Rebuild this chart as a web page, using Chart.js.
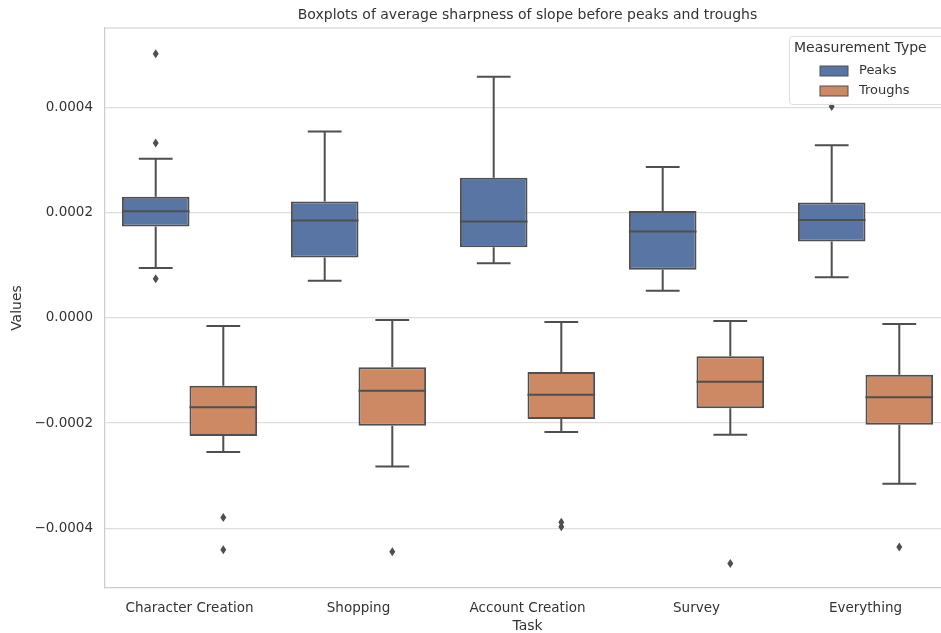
<!DOCTYPE html>
<html>
<head>
<meta charset="utf-8">
<script src="https://cdn.jsdelivr.net/npm/chart.js@4.4.1/dist/chart.umd.min.js"></script>
<style>
  html, body { margin: 0; padding: 0; background: #fff; overflow: hidden; }
  #wrap { width: 960px; height: 633px; }
</style>
</head>
<body>
<div id="wrap"><canvas id="boxChart" width="960" height="633"></canvas></div>
<script>
const tasks = ['Character Creation', 'Shopping', 'Account Creation', 'Survey', 'Everything'];
const yTicks = [-0.0004, -0.0002, 0, 0.0002, 0.0004];

// Peaks
const peaksLow    = [0.0000952, 0.0000711, 0.0001041, 0.0000520, 0.0000775];
const peaksQ1     = [0.0001740, 0.0001150, 0.0001346, 0.0000920, 0.0001454];
const peaksMedian = [0.0002030, 0.0001854, 0.0001835, 0.0001644, 0.0001867];
const peaksQ3     = [0.0002310, 0.0002216, 0.0002670, 0.0002038, 0.0002197];
const peaksHigh   = [0.0003030, 0.0003550, 0.0004590, 0.0002876, 0.0003290];
const peaksOut    = [[0.000503, 0.000333, 0.0000749], [], [], [], [0.0004025]];

// Troughs
const troughsLow    = [-0.0002552, -0.0002826, -0.0002171, -0.0002222, -0.0003156];
const troughsQ1     = [-0.0002248, -0.0002050, -0.0001924, -0.0001720, -0.0002032];
const troughsMedian = [-0.0001700, -0.0001384, -0.0001460, -0.0001213, -0.0001510];
const troughsQ3     = [-0.0001290, -0.0000940, -0.0001029, -0.0000730, -0.0001080];
const troughsHigh   = [-0.0000152, -0.0000038, -0.0000076, -0.0000057, -0.0000114];
const troughsOut    = [[-0.0003797, -0.000441], [-0.000445], [-0.000389, -0.0003975], [-0.0004673], [-0.000436]];

const lineColor = '#4f4f4f';
const textColor = '#333333';
const fontFamily = '"DejaVu Sans", sans-serif';

const stats = [
    { low: peaksLow, med: peaksMedian, high: peaksHigh, out: peaksOut },
    { low: troughsLow, med: troughsMedian, high: troughsHigh, out: troughsOut }
];

// whiskers, medians and outliers drawn on top of the floating bars
const boxExtras = {
    id: 'boxExtras',
    afterDatasetsDraw(chart) {
        const ctx = chart.ctx;
        const y = chart.scales.y;
        ctx.save();
        ctx.strokeStyle = lineColor;
        ctx.fillStyle = lineColor;
        ctx.lineWidth = 2;
        chart.data.datasets.forEach((ds, di) => {
            const meta = chart.getDatasetMeta(di);
            const s = stats[di];
            meta.data.forEach((bar, i) => {
                const x = bar.x;
                const w = bar.width;
                const top = Math.min(bar.y, bar.base);
                const bottom = Math.max(bar.y, bar.base);
                const yLow = y.getPixelForValue(s.low[i]);
                const yHigh = y.getPixelForValue(s.high[i]);
                const yMed = y.getPixelForValue(s.med[i]);
                ctx.beginPath();
                ctx.moveTo(x, top); ctx.lineTo(x, yHigh);
                ctx.moveTo(x - w / 4, yHigh); ctx.lineTo(x + w / 4, yHigh);
                ctx.moveTo(x, bottom); ctx.lineTo(x, yLow);
                ctx.moveTo(x - w / 4, yLow); ctx.lineTo(x + w / 4, yLow);
                ctx.moveTo(x - w / 2, yMed); ctx.lineTo(x + w / 2, yMed);
                ctx.stroke();
                s.out[i].forEach(v => {
                    const py = y.getPixelForValue(v);
                    ctx.beginPath();
                    ctx.moveTo(x, py - 4.5);
                    ctx.lineTo(x + 3, py);
                    ctx.lineTo(x, py + 4.5);
                    ctx.lineTo(x - 3, py);
                    ctx.closePath();
                    ctx.fill();
                });
            });
        });
        ctx.restore();
    }
};

// frame, title and legend in seaborn style
const decorations = {
    id: 'decorations',
    beforeDatasetsDraw(chart) {
        const { ctx, chartArea: a } = chart;
        ctx.save();
        ctx.strokeStyle = '#cccccc';
        ctx.lineWidth = 1.2;
        ctx.beginPath();
        ctx.moveTo(a.left, a.top); ctx.lineTo(a.right, a.top); ctx.lineTo(a.right, a.bottom);
        ctx.stroke();
        ctx.restore();
    },
    afterDraw(chart) {
        const { ctx, chartArea: a } = chart;
        ctx.save();
        ctx.fillStyle = textColor;
        ctx.font = '14px ' + fontFamily;
        ctx.textAlign = 'center';
        ctx.textBaseline = 'middle';
        ctx.fillText('Boxplots of average sharpness of slope before peaks and troughs', (a.left + a.right) / 2, 15);

        // legend
        const lx = 789, ly = 36, lw = 170, lh = 68;
        ctx.fillStyle = 'rgba(255,255,255,0.85)';
        ctx.strokeStyle = '#dddddd';
        ctx.lineWidth = 1;
        ctx.beginPath();
        ctx.roundRect(lx + 0.5, ly + 0.5, lw, lh, 3);
        ctx.fill();
        ctx.stroke();
        ctx.fillStyle = textColor;
        ctx.textAlign = 'left';
        ctx.font = '14px ' + fontFamily;
        ctx.fillText('Measurement Type', lx + 5, ly + 12);
        ctx.font = '13px ' + fontFamily;
        chart.data.datasets.forEach((ds, i) => {
            const ry = ly + 30 + i * 20;
            ctx.fillStyle = ds.backgroundColor;
            ctx.fillRect(lx + 31, ry, 28, 10);
            ctx.strokeStyle = lineColor;
            ctx.lineWidth = 1;
            ctx.strokeRect(lx + 31, ry, 28, 10);
            ctx.fillStyle = textColor;
            ctx.fillText(ds.label, lx + 70, ry + 5);
        });
        ctx.restore();
    }
};

const boxData = (q1, q3) => q1.map((v, i) => [v, q3[i]]);

new Chart(document.getElementById('boxChart'), {
    type: 'bar',
    data: {
        labels: tasks,
        datasets: [
            {
                label: 'Peaks',
                data: boxData(peaksQ1, peaksQ3),
                backgroundColor: '#5975a4',
                borderColor: lineColor,
                borderWidth: 2,
                borderSkipped: false
            },
            {
                label: 'Troughs',
                data: boxData(troughsQ1, troughsQ3),
                backgroundColor: '#cc8963',
                borderColor: lineColor,
                borderWidth: 2,
                borderSkipped: false
            }
        ]
    },
    options: {
        responsive: false,
        animation: false,
        layout: { padding: { top: 28, right: 10, left: 0, bottom: 0 } },
        datasets: { bar: { categoryPercentage: 0.8, barPercentage: 1.0 } },
        plugins: {
            legend: { display: false },
            tooltip: { enabled: false },
            title: { display: false }
        },
        scales: {
            x: {
                grid: { display: false },
                border: { display: true, color: '#cccccc', width: 1.2 },
                ticks: { color: textColor, font: { family: fontFamily, size: 13.5 }, padding: 4, maxRotation: 0 },
                title: { display: true, text: 'Task', color: textColor, font: { family: fontFamily, size: 14, lineHeight: 1 }, padding: { top: 0, bottom: 0 } },
                afterFit(scale) { scale.height = 45; }
            },
            y: {
                min: -0.000514,
                max: 0.000552,
                grid: { color: '#dddddd', lineWidth: 1.2, drawTicks: false },
                border: { display: true, color: '#cccccc', width: 1.2 },
                ticks: {
                    color: textColor,
                    font: { family: fontFamily, size: 13.5 },
                    padding: 12,
                    callback: v => (v < 0 ? '\u2212' : '') + Math.abs(v).toFixed(4)
                },
                afterBuildTicks(scale) { scale.ticks = yTicks.map(v => ({ value: v })); },
                title: { display: true, text: 'Values', color: textColor, font: { family: fontFamily, size: 14 }, padding: { top: 9, bottom: 0 } },
                afterFit(scale) { scale.width = 105; }
            }
        }
    },
    plugins: [decorations, boxExtras]
});
</script>
</body>
</html>
